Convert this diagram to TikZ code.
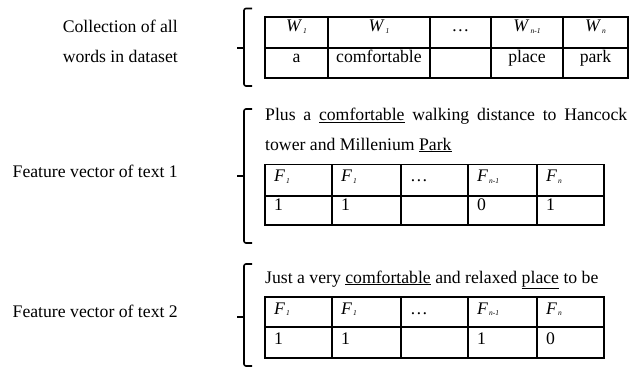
\documentclass[tikz,border=0pt]{standalone}
\usepackage{fontspec}
\setmainfont{Liberation Serif}
% body text size used throughout
\newcommand\bodyfont{\fontsize{17.7}{21}\selectfont}
% italic symbol with a tiny italic index set low beside it
\newcommand\idx[2]{\textit{#1}\kern1pt\raisebox{-1.2pt}{\fontsize{7.5}{7.5}\selectfont\textit{#2}}}
\tikzset{
  brk/.style={line width=1.6pt, rounded corners=2pt},
  tick/.style={line width=2.8pt},
  tbl/.style={line width=1.1pt},
  lbl/.style={anchor=base east, inner sep=0pt, font=\bodyfont},
  txt/.style={anchor=base west, inner sep=0pt, font=\bodyfont},
  cellc/.style={anchor=base, inner sep=0pt, font=\bodyfont},
  celll/.style={anchor=base west, inner sep=0pt, font=\bodyfont},
}
\begin{document}
\begin{tikzpicture}[x=1pt, y=-1pt]
\useasboundingbox (0,0) rectangle (630,369);

% left-hand labels
\node[lbl] (lab1a) at (178,33) {Collection of all};
\node[lbl] (lab1b) at (178,63) {words in dataset};
\node[lbl] (lab2) at (178,177) {Feature vector of text 1};
\node[lbl] (lab3) at (178,317) {Feature vector of text 2};

% brackets with a centre tick
\foreach \t/\m/\b in {8.5/48/86, 109/176/243, 264/317/366} {
  \draw[brk] (252,\t) -- (244,\t) -- (244,\b) -- (252,\b);
  \draw[tick] (237,\m) -- (244.8,\m);
}

% vocabulary table
\draw[tbl] (265,17) rectangle (628,78);
\draw[tbl] (265,48) -- (628,48);
\foreach \x in {328,430,491,563} \draw[tbl] (\x,17) -- (\x,78);
\node[cellc] (w1)  at (296.5,32) {\idx{W}{1}};
\node[cellc] (w2)  at (379,32) {\idx{W}{1}};
\node[cellc] (w3)  at (460.5,32) {\ldots};
\node[cellc] (w4)  at (527,32) {\idx{W}{n-1}};
\node[cellc] (w5)  at (595.5,32) {\idx{W}{n}};
\node[cellc] (v1)  at (296.5,63) {a};
\node[cellc] (v2)  at (379,63) {comfortable};
\node[cellc] (v4)  at (527,63) {place};
\node[cellc] (v5)  at (595.5,63) {park};

% text 1 and its feature vector
\node[txt] (s1a) at (265,121) {\makebox[362pt][s]{Plus a \underline{comfortable} walking distance to Hancock}};
\node[txt] (s1b) at (265,150) {tower and Millenium \underline{Park}};
\draw[tbl] (265,164.5) rectangle (604,225);
\draw[tbl] (265,196) -- (604,196);
\foreach \x in {332,401,468,537} \draw[tbl] (\x,164.5) -- (\x,225);
\node[celll] (fa1) at (274,182) {\idx{F}{1}};
\node[celll] (fa2) at (341,182) {\idx{F}{1}};
\node[celll] (fa3) at (410,182) {\ldots};
\node[celll] (fa4) at (477,182) {\idx{F}{n-1}};
\node[celll] (fa5) at (546,182) {\idx{F}{n}};
\node[celll] (ga1) at (274,210) {1};
\node[celll] (ga2) at (341,210) {1};
\node[celll] (ga4) at (477,210) {0};
\node[celll] (ga5) at (546,210) {1};

% text 2 and its feature vector
\node[txt] (s2) at (265,283) {Just a very \underline{comfortable} and relaxed \underline{place} to be};
\draw[tbl] (265,297) rectangle (604,358);
\draw[tbl] (265,327) -- (604,327);
\foreach \x in {332,401,468,537} \draw[tbl] (\x,297) -- (\x,358);
\node[celll] (fb1) at (274,314) {\idx{F}{1}};
\node[celll] (fb2) at (341,314) {\idx{F}{1}};
\node[celll] (fb3) at (410,314) {\ldots};
\node[celll] (fb4) at (477,314) {\idx{F}{n-1}};
\node[celll] (fb5) at (546,314) {\idx{F}{n}};
\node[celll] (gb1) at (274,344) {1};
\node[celll] (gb2) at (341,344) {1};
\node[celll] (gb4) at (477,344) {1};
\node[celll] (gb5) at (546,344) {0};
\end{tikzpicture}
\end{document}
